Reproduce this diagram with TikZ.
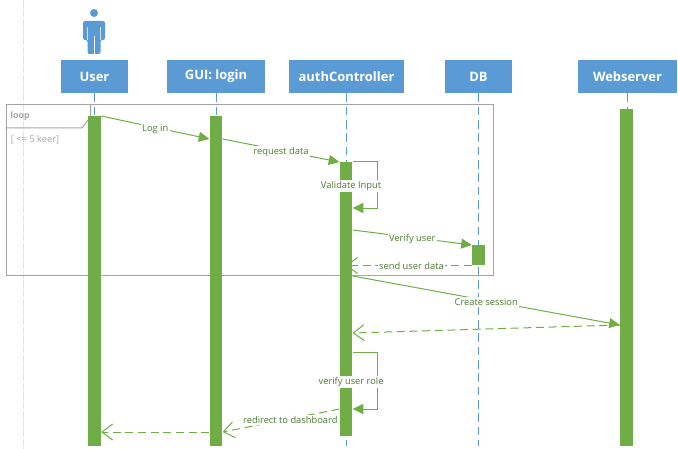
\documentclass[tikz,border=0pt]{standalone}
\usepackage{fontspec}
\setmainfont{Open Sans}
\usepackage{xcolor}
\usetikzlibrary{positioning, arrows.meta}
\definecolor{headblue}{HTML}{5B9BD5}
\definecolor{barinkgreen}{HTML}{70AD47}
\definecolor{labgreen}{HTML}{4E7B30}
\definecolor{framegray}{HTML}{A5A5A5}
\definecolor{pagegray}{HTML}{E3E3E3}

\begin{document}
\begin{tikzpicture}[
  x=0.75pt, y=-0.75pt,
  every node/.style={font=\fontsize{7pt}{8.5pt}\selectfont}
]
\tikzset{
  head/.style  ={fill=headblue, text=white, minimum height=24.75pt, inner sep=0pt,
                 font=\fontsize{9.7pt}{11pt}\selectfont\bfseries},
  life/.style  ={draw=headblue, line width=0.75pt, dash pattern=on 6.5pt off 3.5pt},
  bar/.style   ={fill=barinkgreen, anchor=north, minimum width=9.5pt, inner sep=0pt},
  msg/.style   ={draw=barinkgreen, line width=0.75pt,
                 -{Triangle[length=8pt,width=7.5pt]}},
  back/.style  ={draw=barinkgreen, line width=0.75pt, dash pattern=on 6pt off 3.5pt,
                 -{Straight Barb[length=8pt,width=12pt]}},
  lab/.style   ={fill=white, text=labgreen, inner sep=1pt, yshift=-1pt},
  framed/.style={draw=framegray, line width=0.75pt, anchor=north west, inner sep=0pt,
                 minimum width=365.6pt, minimum height=128.25pt},
  note/.style  ={text=framegray, inner sep=0pt}
}
\useasboundingbox (0,0) rectangle (678,449);

%% ----- Page edge, loop frame -----
\coordinate (top) at (23.5,0);
\coordinate (end) at (0,446);
\draw[pagegray, line width=0.75pt, dash pattern=on 6pt off 1pt] (top) -- (23.5,449);

\node[framed] (loop) at (5.5,104) {};
\draw[framegray, line width=0.75pt] ([xshift=63.75pt]loop.north west) -- ++(0,13)
  -- ++(-8.5,11) -| ([yshift=-18pt]loop.north west);
\node[note, font=\fontsize{6.6pt}{8pt}\selectfont\bfseries] (looplab) at (20,116) {loop};
\node[note] (guard) at (35,140) {[ <= 5 keer]};

%% ----- Actor -----
\node[circle, fill=headblue, minimum size=6pt, inner sep=0pt] (actorhead) at (94,13) {};
\fill[headblue, rounded corners=1.5pt] (83,21) -- (105,21) -- (105,40) -- (100.5,40)
  -- (100.5,54) -- (87.5,54) -- (87.5,40) -- (83,40) -- cycle;
\draw[white, line width=0.5pt] (94,36) -- (94,54);
\draw[white!70!headblue, line width=0.4pt] (87.5,27) -- (87.5,40) (100.5,27) -- (100.5,40);

%% ----- Heads -----
\node[head, minimum width=50.25pt] (user) at (94.5,76.5) {User};
\node[head, minimum width=73.5pt]  (gui)  at (216,76.5)  {GUI: login};
\node[head, minimum width=86.25pt] (auth) at (346.5,76.5) {authController};
\node[head, minimum width=50.25pt] (db)   at (478.5,76.5) {DB};
\node[head, minimum width=74.25pt] (web)  at (627.5,76.5) {Webserver};

\foreach \n in {user,gui,auth,db,web}
  \draw[life] (\n.south) -- (\n |- end);

%% ----- Activation bars -----
\node[bar, minimum height=247.5pt] (userbar) at (94.5,116) {};
\node[bar, minimum height=247.5pt] (guibar)  at (216,116) {};
\node[bar, minimum height=205.5pt] (authbar) at (346,162) {};
\node[bar, minimum height=15pt]    (dbbar)   at (478.5,245) {};
\node[bar, minimum height=252.75pt] (webbar) at (626.5,109) {};

%% ----- Messages -----
\draw[msg] (userbar.north east) --
  node[lab] {Log in} ([yshift=-17.25pt]guibar.north west);
\draw[msg] ([yshift=-17.25pt]guibar.north east) --
  node[lab] {request data} (authbar.north west);
\draw[msg] (authbar.north east) -- ++(24.5,0) |-
  node[lab, pos=0.25, xshift=-19.5pt] {Validate Input} ([yshift=-34.5pt]authbar.north east);
\draw[msg] ([yshift=-51pt]authbar.north east) --
  node[lab] {Verify user} (dbbar.north west);
\draw[back] (dbbar.south west) --
  node[lab, pos=0.48, yshift=1pt] {send user data} (authbar.center |- dbbar.south);
\draw[msg] ([yshift=-85.5pt]authbar.north east) --
  node[lab, pos=0.5] {Create session} ([yshift=-162pt]webbar.north west);
\draw[back] ([yshift=-162pt]webbar.north west) -- ([yshift=-128.25pt]authbar.north east);
\draw[msg] ([yshift=-142.5pt]authbar.north east) -- ++(24.5,0) |-
  node[lab, pos=0.25, xshift=-19.5pt] {verify user role} ([yshift=-185.25pt]authbar.north east);
\draw[back] ([yshift=-185.25pt]authbar.north west) --
  node[lab, pos=0.42] {redirect to dashboard} ([yshift=-237pt]guibar.north east);
\draw[back] ([yshift=-237pt]guibar.north west) -- ([yshift=-237pt]userbar.north east);

\end{tikzpicture}
\end{document}
